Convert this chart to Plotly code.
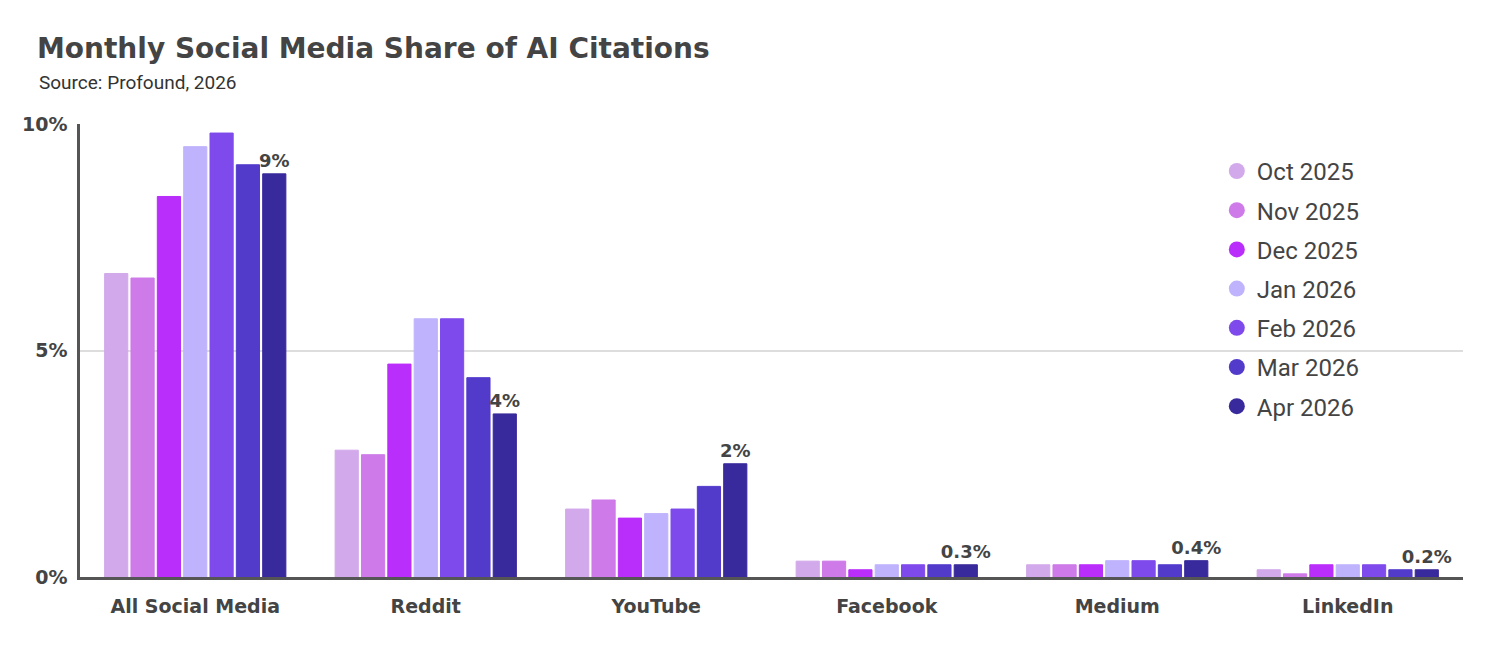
import plotly.graph_objects as go

platforms = ["All Social Media", "Reddit", "YouTube", "Facebook", "Medium", "LinkedIn"]
months = ["Oct 2025", "Nov 2025", "Dec 2025", "Jan 2026", "Feb 2026", "Mar 2026", "Apr 2026"]

oct_2025 = [6.7, 2.8, 1.5, 0.35, 0.27, 0.16]
nov_2025 = [6.6, 2.7, 1.7, 0.35, 0.27, 0.07]
dec_2025 = [8.4, 4.7, 1.3, 0.16, 0.27, 0.27]
jan_2026 = [9.5, 5.7, 1.4, 0.27, 0.36, 0.27]
feb_2026 = [9.8, 5.7, 1.5, 0.27, 0.36, 0.27]
mar_2026 = [9.1, 4.4, 2.0, 0.27, 0.27, 0.16]
apr_2026 = [8.9, 3.6, 2.5, 0.27, 0.36, 0.16]
apr_labels = ["9%", "4%", "2%", "0.3%", "0.4%", "0.2%"]

series = [oct_2025, nov_2025, dec_2025, jan_2026, feb_2026, mar_2026, apr_2026]
colors = ["#D2A9EA", "#CE7AE8", "#BA2EFB", "#BFB3FD", "#7F4AEC", "#523ACB", "#38299C"]

bold = dict(family="DejaVu Sans", color="#444444", weight="bold")

fig = go.Figure()
for i, (name, vals, col) in enumerate(zip(months, series, colors)):
    last = i == len(months) - 1
    fig.add_trace(go.Bar(
        x=platforms, y=vals, name=name,
        marker=dict(color=col, line=dict(color=col, width=1)),
        showlegend=False,
        text=apr_labels if last else None,
        textposition="outside" if last else None,
        textfont=dict(size=18, **bold),
        cliponaxis=False,
    ))
    # legend entry with a round marker
    fig.add_trace(go.Scatter(
        x=[None], y=[None], mode="markers", name=name,
        legendgroup=name,
        marker=dict(symbol="circle", size=20, color=col),
    ))

# page body has an 8px margin, so everything is shifted by 8px
fig.update_layout(
    width=1500, height=649,
    paper_bgcolor="white", plot_bgcolor="white",
    margin=dict(l=72, r=45, t=116, b=80),
    barmode="group", bargap=0.2, bargroupgap=0.12,
    uniformtext=dict(minsize=18, mode="show"),
    title=dict(
        text="Monthly Social Media Share of AI Citations",
        x=0.0193, xanchor="left", y=0.938, yanchor="middle",
        font=dict(size=28, **bold),
    ),
    annotations=[dict(
        text="Source: Profound, 2026", xref="paper", yref="paper",
        x=-0.0311, y=1.0927, xanchor="left", yanchor="middle", showarrow=False,
        font=dict(family="Roboto", size=19, color="#333333"),
    )],
    legend=dict(
        x=0.822, xanchor="left", y=0.945, yanchor="top",
        font=dict(family="Roboto", size=24, color="#444444"),
        tracegroupgap=5, bgcolor="rgba(0,0,0,0)",
    ),
    xaxis=dict(
        showgrid=False, showline=True, linecolor="#555555", linewidth=2.5,
        ticks="", ticklabelstandoff=10, tickfont=dict(size=19, **bold),
    ),
    yaxis=dict(
        range=[0, 10], tickvals=[0, 5, 10], ticktext=["0%", "5%", "10%"],
        showgrid=True, gridcolor="#DDDDDD", gridwidth=1.5,
        showline=True, linecolor="#555555", linewidth=2.5,
        zeroline=False, ticks="", ticklabelstandoff=6,
        tickfont=dict(size=19, **bold),
    ),
)

fig.write_html("out.html")
